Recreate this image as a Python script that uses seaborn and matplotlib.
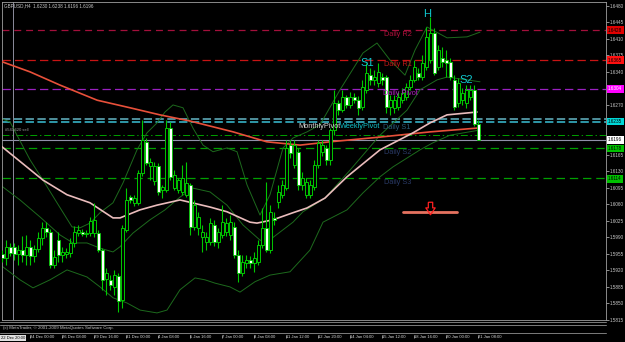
import matplotlib
matplotlib.use("Agg")
import matplotlib.pyplot as plt
from matplotlib.lines import Line2D
from matplotlib.path import Path
import numpy as np
import pandas as pd
import seaborn as sns

# ---------------- data (GBPUSD H4) ----------------
opens = [1.5955, 1.5946, 1.5970, 1.5970, 1.5955, 1.5963, 1.5953, 1.5970, 1.5951, 1.5965,
         1.5989, 1.6010, 1.6001, 1.5932, 1.5984, 1.5953, 1.5955, 1.5957, 1.5978, 1.5999,
         1.6001, 1.5997, 1.5999, 1.5999, 1.5999, 1.5963, 1.5902, 1.5900, 1.5885, 1.5908,
         1.5857, 1.6006, 1.6075, 1.6063, 1.6063, 1.6126, 1.6192, 1.6141, 1.6109, 1.6141,
         1.6090, 1.6090, 1.6221, 1.6094, 1.6090, 1.6086, 1.6080, 1.6101, 1.6012, 1.6010,
         1.5991, 1.5980, 1.5980, 1.6016, 1.5980, 1.5995, 1.6001, 1.5995, 1.6012, 1.5953,
         1.5915, 1.5936, 1.5942, 1.5936, 1.5938, 1.5974, 1.6010, 1.5963, 1.6031, 1.6065,
         1.6080, 1.6094, 1.6185, 1.6143, 1.6171, 1.6101, 1.6080, 1.6080, 1.6096, 1.6143,
         1.6171, 1.6179, 1.6154, 1.6217, 1.6274, 1.6259, 1.6287, 1.6270, 1.6287, 1.6280,
         1.6266, 1.6302, 1.6333, 1.6323, 1.6316, 1.6329, 1.6329, 1.6266, 1.6264, 1.6266,
         1.6280, 1.6287, 1.6308, 1.6323, 1.6338, 1.6329, 1.6350, 1.6365, 1.6422, 1.6350,
         1.6369, 1.6365, 1.6361, 1.6323, 1.6274, 1.6280, 1.6274, 1.6287, 1.6302, 1.6230]
highs = [1.5963, 1.5984, 1.5978, 1.5978, 1.5974, 1.5993, 1.5995, 1.5984, 1.5974, 1.6001,
         1.6022, 1.6022, 1.6008, 1.5963, 1.6001, 1.5970, 1.5967, 1.5989, 1.6014, 1.6016,
         1.6008, 1.6006, 1.6033, 1.6063, 1.6006, 1.5967, 1.5925, 1.5910, 1.5921, 1.5915,
         1.6016, 1.6094, 1.6080, 1.6080, 1.6132, 1.6238, 1.6200, 1.6158, 1.6149, 1.6147,
         1.6101, 1.6238, 1.6234, 1.6132, 1.6116, 1.6143, 1.6149, 1.6105, 1.6069, 1.6044,
         1.6016, 1.6001, 1.6031, 1.6027, 1.6010, 1.6058, 1.6031, 1.6037, 1.6022, 1.5963,
         1.5953, 1.5953, 1.5951, 1.5959, 1.5984, 1.6052, 1.6107, 1.6058, 1.6044, 1.6101,
         1.6111, 1.6196, 1.6196, 1.6196, 1.6179, 1.6128, 1.6116, 1.6111, 1.6154, 1.6196,
         1.6196, 1.6185, 1.6221, 1.6302, 1.6280, 1.6302, 1.6291, 1.6297, 1.6295, 1.6289,
         1.6323, 1.6359, 1.6348, 1.6344, 1.6359, 1.6338, 1.6333, 1.6291, 1.6291, 1.6297,
         1.6306, 1.6316, 1.6333, 1.6365, 1.6348, 1.6376, 1.6435, 1.6456, 1.6433, 1.6397,
         1.6393, 1.6386, 1.6369, 1.6333, 1.6327, 1.6306, 1.6312, 1.6312, 1.6312, 1.6238]
lows = [1.5938, 1.5932, 1.5951, 1.5942, 1.5932, 1.5938, 1.5932, 1.5932, 1.5938, 1.5959,
        1.5974, 1.5991, 1.5925, 1.5925, 1.5938, 1.5938, 1.5946, 1.5948, 1.5970, 1.5993,
        1.5993, 1.5991, 1.5993, 1.5991, 1.5959, 1.5879, 1.5868, 1.5879, 1.5868, 1.5832,
        1.5841, 1.6001, 1.6063, 1.6056, 1.6058, 1.6120, 1.6143, 1.6111, 1.6101, 1.6080,
        1.6073, 1.6086, 1.6111, 1.6090, 1.6084, 1.6080, 1.6075, 1.5995, 1.6006, 1.5995,
        1.5959, 1.5963, 1.5974, 1.5972, 1.5967, 1.5989, 1.5993, 1.5984, 1.5946, 1.5896,
        1.5908, 1.5925, 1.5925, 1.5917, 1.5932, 1.5967, 1.5959, 1.5957, 1.6016, 1.6052,
        1.6073, 1.6090, 1.6158, 1.6137, 1.6090, 1.6090, 1.6073, 1.6073, 1.6090, 1.6137,
        1.6162, 1.6143, 1.6143, 1.6206, 1.6249, 1.6255, 1.6264, 1.6264, 1.6274, 1.6249,
        1.6259, 1.6295, 1.6312, 1.6312, 1.6308, 1.6312, 1.6253, 1.6249, 1.6253, 1.6259,
        1.6274, 1.6280, 1.6302, 1.6319, 1.6323, 1.6323, 1.6344, 1.6359, 1.6333, 1.6344,
        1.6350, 1.6329, 1.6323, 1.6259, 1.6266, 1.6270, 1.6264, 1.6280, 1.6225, 1.6196]
closes = [1.5946, 1.5970, 1.5957, 1.5955, 1.5963, 1.5953, 1.5970, 1.5951, 1.5965, 1.5989,
          1.6010, 1.6001, 1.5932, 1.5948, 1.5953, 1.5959, 1.5959, 1.5978, 1.6001, 1.6006,
          1.5997, 1.5999, 1.6025, 1.6027, 1.5963, 1.5900, 1.5915, 1.5889, 1.5910, 1.5855,
          1.6010, 1.6069, 1.6069, 1.6073, 1.6126, 1.6196, 1.6147, 1.6149, 1.6141, 1.6086,
          1.6096, 1.6221, 1.6118, 1.6122, 1.6111, 1.6116, 1.6105, 1.6012, 1.6058, 1.6033,
          1.6001, 1.5991, 1.6020, 1.5980, 1.6001, 1.6022, 1.6020, 1.6022, 1.5953, 1.5915,
          1.5938, 1.5942, 1.5936, 1.5946, 1.5974, 1.6010, 1.5963, 1.6044, 1.6027, 1.6086,
          1.6101, 1.6179, 1.6168, 1.6185, 1.6101, 1.6116, 1.6107, 1.6101, 1.6143, 1.6190,
          1.6185, 1.6154, 1.6217, 1.6274, 1.6259, 1.6287, 1.6270, 1.6287, 1.6280, 1.6264,
          1.6308, 1.6338, 1.6323, 1.6329, 1.6340, 1.6323, 1.6266, 1.6280, 1.6280, 1.6287,
          1.6295, 1.6308, 1.6323, 1.6350, 1.6329, 1.6359, 1.6414, 1.6422, 1.6338, 1.6386,
          1.6361, 1.6359, 1.6329, 1.6266, 1.6316, 1.6295, 1.6302, 1.6302, 1.6230, 1.6196]

# moving averages read at sample bars
slow_ma_bar = [-0.5, 7, 14.5, 23.8, 32, 39.5, 47, 57.8, 66.2, 74.5, 82, 94.5, 107, 118.8]
slow_ma_val = [1.6363, 1.6340, 1.6312, 1.6280, 1.6264, 1.6249, 1.6236, 1.6213, 1.6192,
               1.6185, 1.6192, 1.6202, 1.6213, 1.6221]
fast_ma_bar = [-0.5, 10.25, 16.25, 22, 27.75, 29.5, 34.5, 38.75, 44.5, 52, 56.25, 62, 63.75,
               67.75, 72.75, 76.25, 80.75, 86.25, 94.5, 102.75, 107, 111.25, 118.75]
fast_ma_val = [1.6185, 1.6111, 1.6080, 1.6063, 1.6031, 1.6031, 1.6048, 1.6058, 1.6069, 1.6054,
               1.6044, 1.6022, 1.6020, 1.6027, 1.6042, 1.6052, 1.6073, 1.6118, 1.6175, 1.6211,
               1.6232, 1.6249, 1.6255]

# Bollinger bands read at sample bars
bb_up_bar = [-0.5, 2, 7, 10.25, 13.75, 17.5, 19.5, 22, 24.5, 27.75, 30.25, 33.75, 36.25, 38.75,
             40.75, 42.75, 45.25, 47.75, 50.25, 52.75, 56.25, 58.75, 61.25, 64.5, 67, 70.25,
             72.75, 76.25, 79.5, 84.5, 90.25, 93.75, 97, 100.75, 103.25, 106.25, 111.25, 116.25,
             119.5]
bb_up_val = [1.6242, 1.6234, 1.6154, 1.6111, 1.6063, 1.6012, 1.6010, 1.6020, 1.6042, 1.6063,
             1.6105, 1.6175, 1.6211, 1.6232, 1.6255, 1.6270, 1.6264, 1.6221, 1.6185, 1.6171,
             1.6179, 1.6171, 1.6101, 1.6037, 1.6080, 1.6179, 1.6200, 1.6213, 1.6228, 1.6302,
             1.6380, 1.6401, 1.6365, 1.6333, 1.6386, 1.6435, 1.6412, 1.6414, 1.6424]
bb_mid_bar = [-0.5, 4.5, 9.5, 14.5, 17.75, 21.25, 24.5, 27.75, 29.5, 32.75, 37, 40.75, 44.5,
              47.75, 52, 56.25, 60.25, 64.5, 66.25, 69.5, 72.75, 75.25, 80.75, 87, 94.5,
              101.25, 104.5, 108.75, 111.25, 116.25, 119.5]
bb_mid_val = [1.6101, 1.6069, 1.6033, 1.5995, 1.5978, 1.5978, 1.5967, 1.5959, 1.5970, 1.5999,
              1.6027, 1.6048, 1.6075, 1.6094, 1.6086, 1.6058, 1.6016, 1.5984, 1.5980, 1.6001,
              1.6022, 1.6044, 1.6073, 1.6132, 1.6206, 1.6259, 1.6302, 1.6323, 1.6329, 1.6323,
              1.6319]
bb_lo_bar = [-0.5, 4.5, 7.75, 12, 16.25, 21.25, 24.5, 27.75, 31.25, 34.5, 38.75, 41.25, 44.5,
             48.25, 50.75, 53.25, 57, 59.5, 63.25, 67, 72, 77, 80.25, 86.25, 90.25, 94.5,
             97.75, 104.5, 107.75, 112, 119.5]
bb_lo_val = [1.5932, 1.5900, 1.5883, 1.5900, 1.5921, 1.5906, 1.5885, 1.5862, 1.5851, 1.5836,
             1.5830, 1.5836, 1.5879, 1.5904, 1.5900, 1.5893, 1.5885, 1.5874, 1.5896, 1.5910,
             1.5917, 1.5963, 1.6022, 1.6048, 1.6084, 1.6118, 1.6139, 1.6175, 1.6190, 1.6206,
             1.6217]

# horizontal levels
level_prices = [1.6428, 1.6365, 1.6304, 1.6241, 1.6233, 1.6206, 1.6196, 1.6179, 1.6116]
level_names = ["Daily R2", "Daily R1", "Daily Pivot", "MonthlyPivot", "WeeklyPivot",
               "#54X620 sell", "Bid", "Daily S2", "Daily S3"]
price_tags = ["1.6428", "1.6365", "1.6304", "1.6235", "1.6196", "1.6178", "1.6114"]
price_tag_vals = [1.6428, 1.6365, 1.6304, 1.6235, 1.6196, 1.6178, 1.6114]

ytick_vals = [1.6480, 1.6445, 1.6410, 1.6375, 1.6340, 1.6270, 1.6165, 1.6130, 1.6095,
              1.6060, 1.6025, 1.5990, 1.5955, 1.5920, 1.5885, 1.5850, 1.5815]
xtick_bars = [7, 15, 23, 31, 39, 47, 55, 63, 71, 79, 87, 95, 103, 111, 119]
xtick_labels = ["24 Dec 00:00", "26 Dec 08:00", "29 Dec 16:00", "31 Dec 00:00",
                "4 Jan 08:00", "5 Jan 16:00", "7 Jan 00:00", "8 Jan 08:00",
                "11 Jan 12:00", "12 Jan 20:00", "14 Jan 04:00", "15 Jan 12:00",
                "18 Jan 16:00", "20 Jan 00:00", "21 Jan 08:00"]

swing_labels = ["H", "S1", "S2"]
swing_bars = [106.3, 91.3, 116.0]
swing_prices = [1.6463, 1.6359, 1.6323]

signal_bar = 107
signal_price = 1.6052
signal_span = [100.3, 113.8]
signal_line_price = 1.6044
cursor_bar = 2.75

# ---------------- style ----------------
sns.set_style("dark", {"axes.facecolor": "black", "figure.facecolor": "black"})
plt.rcParams['font.family'] = ['Liberation Sans', 'DejaVu Sans']
plt.rcParams['lines.scale_dashes'] = False

W, H = 625, 342
fig = plt.figure(figsize=(W / 100, H / 100), dpi=100)
fig.patch.set_facecolor("black")
ax = fig.add_axes([2 / W, 1 - 320 / H, 604 / W, 318 / H])
ax.set_facecolor("black")

df = pd.DataFrame({"open": opens, "high": highs, "low": lows, "close": closes})
df["bar"] = np.arange(len(df))
bull = df["close"] >= df["open"]
GREEN = "#00c800"

# Bollinger bands
for bx, by in [(bb_up_bar, bb_up_val), (bb_mid_bar, bb_mid_val), (bb_lo_bar, bb_lo_val)]:
    sns.lineplot(x=bx, y=by, ax=ax, color="#1d6a1d", lw=0.7, sort=False, estimator=None,
                 zorder=2)

# horizontal level lines
style = {
    "Daily R2": dict(color="#a3103c", lw=0.9, ls=(0, (5, 3.5))),
    "Daily R1": dict(color="#c81414", lw=0.9, ls=(0, (6, 3))),
    "Daily Pivot": dict(color="#9a20c0", lw=0.9, ls=(0, (6, 3))),
    "MonthlyPivot": dict(color="#4f8f9c", lw=1.4, ls=(0, (6, 2.5))),
    "WeeklyPivot": dict(color="#2f98a8", lw=1.4, ls=(0, (6, 2.5))),
    "#54X620 sell": dict(color="#00a000", lw=0.7, ls=(0, (5, 2, 1, 2))),
    "Bid": dict(color="#9090a8", lw=0.8, ls="-"),
    "Daily S2": dict(color="#00a000", lw=0.9, ls=(0, (6, 3.5))),
    "Daily S3": dict(color="#00a000", lw=0.9, ls=(0, (6, 3.5))),
}
for p, name in zip(level_prices, level_names):
    s = style[name]
    ax.axhline(p, color=s["color"], lw=s["lw"], linestyle=s["ls"], zorder=1)

ax.axvline(cursor_bar, color="#8c8c9c", lw=0.7, zorder=1)

# moving averages
sns.lineplot(x=slow_ma_bar, y=slow_ma_val, ax=ax, color="#e8503a", lw=1.2, sort=False,
             estimator=None, zorder=3)
sns.lineplot(x=fast_ma_bar, y=fast_ma_val, ax=ax, color="#eabcbc", lw=1.2, sort=False,
             estimator=None, zorder=3)

# candles
wick_lo = np.minimum(df["low"], np.minimum(df["open"], df["close"]))
wick_hi = np.maximum(df["high"], np.maximum(df["open"], df["close"]))
ax.vlines(df["bar"], wick_lo, wick_hi, color=GREEN, lw=0.8, zorder=4)
body_lo = np.minimum(df["open"], df["close"])
body_h = np.maximum(np.abs(df["close"] - df["open"]), 0.00006)
ax.bar(df["bar"][bull], body_h[bull], bottom=body_lo[bull], width=0.75, color="black",
       edgecolor=GREEN, linewidth=0.7, zorder=5)
ax.bar(df["bar"][~bull], body_h[~bull], bottom=body_lo[~bull], width=0.75, color="white",
       edgecolor=GREEN, linewidth=0.6, zorder=5)

# signal arrow
ax.plot(signal_span, [signal_line_price] * 2, color="#ff7f6a", lw=2.0, alpha=0.9, zorder=6)
arrow = Path([(-0.35, 1), (0.35, 1), (0.35, 0.1), (0.75, 0.1), (0, -1), (-0.75, 0.1),
              (-0.35, 0.1), (-0.35, 1)])
ax.plot([signal_bar], [signal_price], marker=arrow, ms=9, mfc="none", mec="#ff2020",
        mew=0.9, zorder=7)

# level texts
lbl = dict(fontsize=5.3, va="top", ha="left", zorder=8)
ax.text(95.6, 1.6426, "Daily R2", color="#b0103c", **lbl)
ax.text(95.6, 1.6363, "Daily R1", color="#c01818", **lbl)
ax.text(95.2, 1.6302, "Daily Pivot", color="#b020c0", **lbl)
ax.text(95.2, 1.6230, "Daily S1", color="#2a5a78", **lbl)
ax.text(95.6, 1.6177, "Daily S2", color="#2a3a66", **lbl)
ax.text(95.6, 1.6114, "Daily S3", color="#2a3a66", **lbl)
ax.text(74.0, 1.6231, "MonthlyPivot", color="#d8d8d8", **lbl)
ax.text(84.6, 1.6231, "WeeklyPivot", color="#10c0c8", **lbl)
ax.text(0.8, 1.6218, "#54X620 sell", color="#a0a0a0", fontsize=3.0, va="center", ha="left")
for t, bx, by in zip(swing_labels, swing_bars, swing_prices):
    ax.text(bx, by, t, color="#10c8d0", fontsize=8, ha="center", va="center", zorder=8)

# axes and ticks
ax.set_xlim(0, 151)
ax.set_ylim(1.58152, 1.64878)
ax.yaxis.tick_right()
ax.set_yticks(ytick_vals)
ax.set_yticklabels([f"{v:.4f}" for v in ytick_vals])
ax.tick_params(axis="y", length=2, width=0.5, colors="#c8c8c8", labelsize=3.3, pad=0.6,
               right=True, left=False)
ax.set_xticks(xtick_bars)
ax.set_xticklabels(xtick_labels, ha="left")
ax.tick_params(axis="x", length=0, pad=10.8, colors="#d8d8d8", labelsize=3.0)
ax.set_xlabel("")
ax.set_ylabel("")
ax.grid(False)
for sp in ax.spines.values():
    sp.set_color("#a0a0a0")
    sp.set_linewidth(0.6)

# tick marks in the date strip
ax.vlines(xtick_bars, -18 / 318, -14.5 / 318, transform=ax.get_xaxis_transform(),
          color="#c0c0c0", lw=0.5, clip_on=False)

# price tags on the right scale
tag_style = [("#e00000", "black"), ("#ff1010", "black"), ("#ff00ff", "white"),
             ("#00d8d8", "black"), ("#ffffff", "black"), ("#00c000", "black"),
             ("#00c000", "black")]
for txt, v, (bg, fg) in zip(price_tags, price_tag_vals, tag_style):
    ax.text(1.0035, v, txt, transform=ax.get_yaxis_transform(), fontsize=3.3, color=fg,
            va="center", ha="left", clip_on=False,
            bbox=dict(boxstyle="square,pad=0.3", fc=bg, ec="none"))

# bottom strip decorations
for yy in [321.5, 324.5, 332.5]:
    fig.add_artist(Line2D([0, 606 / W], [1 - yy / H] * 2, color="#7c7c7c", lw=0.7,
                          transform=fig.transFigure))
fig.text(3 / W, 1 - 328.5 / H, "(c) MetaTrader, \u00a9 2001-2009 MetaQuotes Software Corp.",
         fontsize=3.2, color="#c0c0c0", va="center", ha="left")
fig.text(1 / W, 1 - 338 / H, "22 Dec 20:00", fontsize=3.0, color="black", va="center",
         ha="left", bbox=dict(boxstyle="square,pad=0.25", fc="#e0e0e0", ec="none"))
fig.text(4 / W, 1 - 5.5 / H, "GBPUSD,H4  1.6230 1.6238 1.6196 1.6196", fontsize=3.3,
         color="#c8c8c8", va="center", ha="left")

fig.savefig("out.png", dpi=100, facecolor="black")
